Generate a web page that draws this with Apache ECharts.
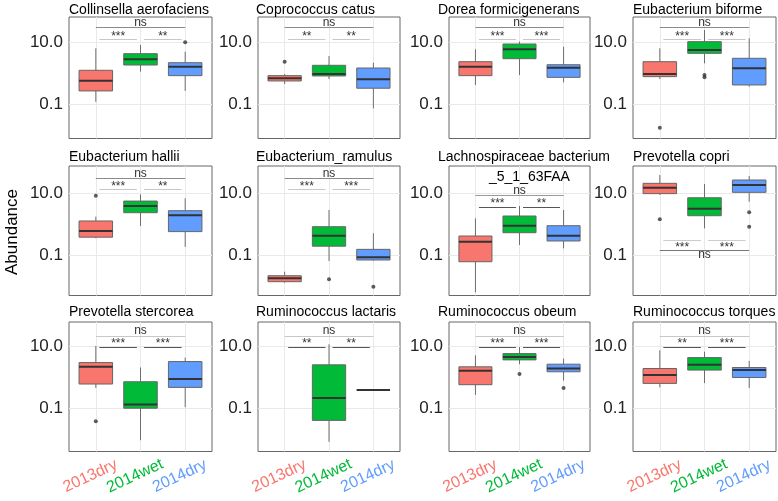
<!DOCTYPE html>
<html>
<head>
<meta charset="utf-8">
<script src="https://cdn.jsdelivr.net/npm/echarts@6.0.0/dist/echarts.min.js"></script>
<style>
  html, body { margin: 0; padding: 0; background: #fff; }
  #chart { width: 778px; height: 501px; }
</style>
</head>
<body>
<div id="chart"></div>
<script>
// ---------------- DATA ----------------
const groups = ['2013dry', '2014wet', '2014dry'];
const yTickValues = [0.1, 10];
const yLabel = 'Abundance';

const titles = [
  'Collinsella aerofaciens', 'Coprococcus catus', 'Dorea formicigenerans', 'Eubacterium biforme',
  'Eubacterium hallii', 'Eubacterium_ramulus', 'Lachnospiraceae bacterium', 'Prevotella copri',
  'Prevotella stercorea', 'Ruminococcus lactaris', 'Ruminococcus obeum', 'Ruminococcus torques'
];
const titleSecondLine = '_5_1_63FAA'; // second line of the Lachnospiraceae title

// box statistics per group: [min, Q1, median, Q3, max]  (order: 2013dry, 2014wet, 2014dry)
const collinsellaBoxes   = [[0.12, 0.27, 0.58, 1.25, 6.4],   [1.13, 1.85, 2.83, 4.3, 8.2],    [0.27, 0.84, 1.63, 2.2, 4.97]];
const coprococcusBoxes   = [[0.45, 0.565, 0.69, 0.84, 0.95], [0.65, 0.82, 0.95, 1.81, 3.6],   [0.074, 0.33, 0.64, 1.48, 2.2]];
const doreaBoxes         = [[0.42, 0.84, 1.63, 2.37, 5.95],  [0.88, 2.96, 5.95, 8.8, 10.5],   [0.51, 0.74, 1.52, 1.89, 7.2]];
const biformeBoxes       = [[0.65, 0.78, 0.95, 2.37, 6.4],   [2.1, 4.4, 5.65, 10.5, 25],      [0.37, 0.42, 1.45, 3.05, 13.5]];
const halliiBoxes        = [[0.36, 0.39, 0.62, 1.3, 1.79],   [0.9, 2.4, 3.95, 5.7, 9.4],      [0.19, 0.59, 1.98, 2.79, 7.0]];
const ramulusBoxes       = [[0.0133, 0.0143, 0.0184, 0.0223, 0.03], [0.0665, 0.2, 0.435, 0.85, 2.94], [0.068, 0.0716, 0.0875, 0.158, 0.52]];
const lachnoBoxes        = [[0.0065, 0.063, 0.279, 0.425, 1.58], [0.218, 0.543, 0.915, 1.88, 3.95], [0.17, 0.294, 0.435, 0.915, 2.94]];
const copriBoxes         = [[8.95, 9.9, 15.4, 21.3, 39.5],   [0.75, 1.92, 3.24, 7.3, 20.2],   [5.43, 10.9, 18.8, 27.2, 36.7]];
const stercoreaBoxes     = [[0.46, 0.616, 2.21, 3.03, 10.4], [0.0095, 0.102, 0.134, 0.73, 2.1], [0.11, 0.48, 0.89, 3.27, 4.39]];
const lactarisBoxes      = [null,                            [0.0084, 0.0413, 0.22, 2.56, 11.8], [0.396, 0.396, 0.396, 0.396, 0.396]];
const obeumBoxes         = [[0.274, 0.586, 1.64, 2.21, 5.2], [2.69, 3.7, 4.6, 5.9, 9.6],      [0.79, 1.53, 1.95, 2.69, 4.07]];
const torquesBoxes       = [[0.48, 0.645, 1.2, 1.95, 7.55],  [0.66, 1.73, 2.56, 4.39, 6.8],   [0.46, 1.0, 1.73, 2.1, 3.44]];

// outliers: [group index, value]
const collinsellaOutliers = [[2, 10]];
const coprococcusOutliers = [[0, 2.37]];
const doreaOutliers       = [];
const biformeOutliers     = [[0, 0.0176], [1, 0.88], [1, 0.74]];
const halliiOutliers      = [[0, 8.5]];
const ramulusOutliers     = [[1, 0.017], [2, 0.0099]];
const lachnoOutliers      = [];
const copriOutliers       = [[0, 1.47], [2, 2.48], [2, 0.85]];
const stercoreaOutliers   = [[0, 0.039]];
const lactarisOutliers    = [];
const obeumOutliers       = [[1, 1.29], [2, 0.46]];
const torquesOutliers     = [];

// significance labels: [2013dry vs 2014wet, 2014wet vs 2014dry, 2013dry vs 2014dry]
const collinsellaSig = ['***', '**', 'ns'];
const coprococcusSig = ['**', '**', 'ns'];
const doreaSig       = ['***', '***', 'ns'];
const biformeSig     = ['***', '***', 'ns'];
const halliiSig      = ['***', '**', 'ns'];
const ramulusSig     = ['***', '***', 'ns'];
const lachnoSig      = ['***', '**', 'ns'];
const copriSig       = ['***', '***', 'ns'];
const stercoreaSig   = ['***', '***', 'ns'];
const lactarisSig    = ['**', '**', 'ns'];
const obeumSig       = ['***', '***', 'ns'];
const torquesSig     = ['**', '***', 'ns'];

// bracket heights (abundance value): [pairwise brackets, 2013dry vs 2014dry bracket]
const collinsellaBracket = [12.5, 30];
const coprococcusBracket = [12.5, 30];
const doreaBracket       = [12.5, 30];
const biformeBracket     = [12.5, 30];
const halliiBracket      = [13.6, 31];
const ramulusBracket     = [13.6, 31];
const lachnoBracket      = [3.67, 8.5];
const copriBracket       = [0.31, 0.143];
const stercoreaBracket   = [9.6, 21.7];
const lactarisBracket    = [9.6, 21.7];
const obeumBracket       = [9.6, 21.7];
const torquesBracket     = [9.6, 21.7];

// y-axis extent per row [min, max]
const rowYRange = [[0.00788, 65.5], [0.00513, 77.1], [0.0041, 61.7]];

// ---------------- STYLE / LAYOUT ----------------
const groupColors = ['#F8766D', '#00BA38', '#619CFF'];
const colLeft  = [69, 258, 449, 633];
const colRight = [212, 400, 590, 776];
const rowTop    = [17, 166, 322];
const rowBottom = [138.5, 295.5, 451.5];
const titleLeft = [69, 256, 438, 633];
const titleTop  = [3, 150, 305];
const FONT = "'Liberation Sans', Arial, Helvetica, sans-serif";

const panels = [
  [collinsellaBoxes, collinsellaOutliers, collinsellaSig, collinsellaBracket],
  [coprococcusBoxes, coprococcusOutliers, coprococcusSig, coprococcusBracket],
  [doreaBoxes, doreaOutliers, doreaSig, doreaBracket],
  [biformeBoxes, biformeOutliers, biformeSig, biformeBracket],
  [halliiBoxes, halliiOutliers, halliiSig, halliiBracket],
  [ramulusBoxes, ramulusOutliers, ramulusSig, ramulusBracket],
  [lachnoBoxes, lachnoOutliers, lachnoSig, lachnoBracket],
  [copriBoxes, copriOutliers, copriSig, copriBracket],
  [stercoreaBoxes, stercoreaOutliers, stercoreaSig, stercoreaBracket],
  [lactarisBoxes, lactarisOutliers, lactarisSig, lactarisBracket],
  [obeumBoxes, obeumOutliers, obeumSig, obeumBracket],
  [torquesBoxes, torquesOutliers, torquesSig, torquesBracket]
];
// bracket line colours per panel: [pair, ns]
const bracketColors = [
  ['#c8c8c8', '#8a8a8a'], ['#c8c8c8', '#8a8a8a'], ['#c8c8c8', '#8a8a8a'], ['#c8c8c8', '#8a8a8a'],
  ['#c8c8c8', '#8a8a8a'], ['#c8c8c8', '#8a8a8a'], ['#555555', '#999999'], ['#cccccc', '#777777'],
  ['#555555', '#c8c8c8'], ['#555555', '#c8c8c8'], ['#555555', '#c8c8c8'], ['#555555', '#c8c8c8']
];
const bracketsBelow = [false, false, false, false, false, false, false, true, false, false, false, false];

function renderBox(params, api) {
  const x = api.value(0);
  const lo = api.value(1), q1 = api.value(2), md = api.value(3), q3 = api.value(4), hi = api.value(5);
  const color = groupColors[Math.round(x)];
  const pl = api.coord([x - 0.375, md]);
  const pr = api.coord([x + 0.375, md]);
  const pq1 = api.coord([x, q1]);
  const pq3 = api.coord([x, q3]);
  const plo = api.coord([x, lo]);
  const phi = api.coord([x, hi]);
  const cx = pq1[0];
  return {
    type: 'group',
    children: [
      { type: 'line', shape: { x1: cx, y1: phi[1], x2: cx, y2: pq3[1] }, style: { stroke: '#6e6e6e', lineWidth: 1 } },
      { type: 'line', shape: { x1: cx, y1: pq1[1], x2: cx, y2: plo[1] }, style: { stroke: '#6e6e6e', lineWidth: 1 } },
      { type: 'rect', shape: { x: pl[0], y: pq3[1], width: pr[0] - pl[0], height: pq1[1] - pq3[1] },
        style: { fill: color, stroke: '#666', lineWidth: 1 } },
      { type: 'line', shape: { x1: pl[0], y1: pl[1], x2: pr[0], y2: pr[1] }, style: { stroke: '#333', lineWidth: 2 } }
    ]
  };
}

const grid = [], xAxis = [], yAxis = [], series = [], title = [];

panels.forEach(function (p, i) {
  const row = Math.floor(i / 4), col = i % 4;
  const boxes = p[0], outliers = p[1], sig = p[2], br = p[3];
  grid.push({
    left: colLeft[col], top: rowTop[row],
    width: colRight[col] - colLeft[col], height: rowBottom[row] - rowTop[row],
    show: true, borderColor: '#666', borderWidth: 1, backgroundColor: '#fff', containLabel: false
  });
  xAxis.push({
    gridIndex: i, type: 'value', min: -0.6, max: 2.6,
    axisLine: { show: false },
    axisTick: { show: false, customValues: [0, 1, 2] },
    axisLabel: {
      show: row === 2, customValues: [0, 1, 2],
      formatter: function (v) { return groups[Math.round(Number(v))]; },
      color: function (v) { return groupColors[Math.round(Number(v))]; },
      rotate: 25, fontSize: 16, fontFamily: FONT, align: 'center', verticalAlign: 'middle',
      margin: 22, padding: [0, 12, 0, 0]
    },
    splitLine: { show: true, lineStyle: { color: '#e9e9e9', width: 1 } }
  });
  yAxis.push({
    gridIndex: i, type: 'log', logBase: 10,
    min: rowYRange[row][0], max: rowYRange[row][1],
    axisLine: { show: false },
    axisTick: { show: false, customValues: yTickValues },
    axisLabel: {
      customValues: yTickValues,
      formatter: function (v) { return Number(v).toFixed(1); },
      fontSize: 17, color: '#222', fontFamily: FONT, margin: 6
    },
    splitLine: { show: true, lineStyle: { color: '#e9e9e9', width: 1 } }
  });

  const boxData = [];
  boxes.forEach(function (b, g) { if (b) boxData.push([g].concat(b)); });
  series.push({
    type: 'custom', xAxisIndex: i, yAxisIndex: i,
    renderItem: renderBox,
    encode: { x: 0, y: [1, 2, 3, 4, 5] },
    data: boxData, silent: true, z: 2
  });

  const below = bracketsBelow[i];
  const pairPos = below ? 'insideMiddleBottom' : 'insideMiddleTop';
  const lbl = function (text, dist) {
    return { show: true, formatter: text, position: pairPos, distance: dist,
             fontSize: 12, color: '#333', fontFamily: FONT };
  };
  series.push({
    type: 'scatter', xAxisIndex: i, yAxisIndex: i,
    data: outliers, symbolSize: 4, itemStyle: { color: '#333' }, silent: true, z: 3,
    markLine: {
      silent: true, symbol: ['none', 'none'], animation: false,
      lineStyle: { type: 'solid', width: 1 },
      emphasis: { disabled: true },
      data: [
        [{ coord: [0.08, br[0]], lineStyle: { color: bracketColors[i][0], type: 'solid', width: 1 },
           label: lbl(sig[0], below ? 1 : -3) }, { coord: [0.92, br[0]] }],
        [{ coord: [1.08, br[0]], lineStyle: { color: bracketColors[i][0], type: 'solid', width: 1 },
           label: lbl(sig[1], below ? 1 : -3) }, { coord: [1.92, br[0]] }],
        [{ coord: [0, br[1]], lineStyle: { color: bracketColors[i][1], type: 'solid', width: 1 },
           label: lbl(sig[2], below ? -2 : -1) }, { coord: [2, br[1]] }]
      ]
    }
  });

  title.push({
    text: titles[i], left: titleLeft[col], top: titleTop[row], padding: 0,
    textStyle: { fontSize: 14, fontWeight: 'normal', color: '#000', fontFamily: FONT }
  });
});

// second line of the Lachnospiraceae title
title.push({
  text: titleSecondLine, left: 489, top: 170, padding: 0,
  textStyle: { fontSize: 14, fontWeight: 'normal', color: '#000', fontFamily: FONT }
});

const option = {
  animation: false,
  backgroundColor: '#fff',
  textStyle: { fontFamily: FONT },
  title: title,
  grid: grid,
  xAxis: xAxis,
  yAxis: yAxis,
  series: series,
  graphic: [{
    type: 'text', x: 12, y: 232, rotation: Math.PI / 2,
    style: { text: yLabel, fontSize: 17, fill: '#000', fontFamily: FONT,
             align: 'center', verticalAlign: 'middle' }
  }]
};

const chart = echarts.init(document.getElementById('chart'), null, { renderer: 'canvas' });
chart.setOption(option);
</script>
</body>
</html>
